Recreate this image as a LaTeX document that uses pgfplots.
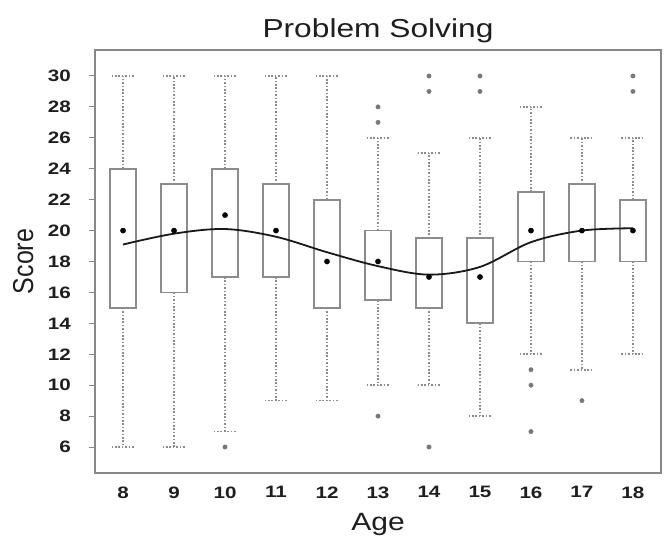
\documentclass[border=0pt]{standalone}
\usepackage{fontspec}
\setmainfont{Liberation Sans}
\usepackage{pgfplots}
\pgfplotsset{compat=1.18}
\usepgfplotslibrary{statistics}
\definecolor{boxgray}{RGB}{140,140,140}
\definecolor{framegray}{RGB}{135,135,135}
\definecolor{outgray}{RGB}{120,120,120}
\definecolor{txt}{RGB}{30,30,30}
\pgfplotsset{
  boxplot/draw direction=y,
  boxplot/every box/.style={draw=boxgray, line width=1.8pt, fill=white},
  boxplot/every whisker/.style={draw=boxgray, line width=1.6pt, dash pattern=on 1.6pt off 1.8pt},
  boxplot/every median/.style={draw=none},
  bx/.style={draw=boxgray, line width=1.8pt, boxplot prepared={box extend=0.5, whisker extend=0.45}},
}
\begin{document}
\begin{tikzpicture}
\begin{axis}[
  scale only axis, width=566pt, height=423pt,
  xmin=7.45, xmax=18.55, ymin=4.32, ymax=31.68,
  xtick={8,...,18}, ytick={6,8,...,30},
  /pgf/number format/assume math mode=true,
  axis line style={framegray, line width=1.3pt},
  tick align=outside, tick pos=left,
  major tick length=6pt,
  ytick style={framegray, line width=1pt},
  xtick style={draw=none},
  tick label style={font=\fontsize{16.5}{16.5}\selectfont\bfseries, text=txt, xscale=1.25},
  yticklabel style={xshift=-11pt},
  xticklabel style={yshift=-4pt},
  title={Problem Solving},
  title style={font=\fontsize{26}{26}\selectfont, text=txt, xscale=1.22, at={(axis description cs:0.5,1.0142)}, anchor=base},
  xlabel={Age},
  xlabel style={font=\fontsize{25}{25}\selectfont, text=txt, xscale=1.2, at={(axis description cs:0.5,-0.1348)}, anchor=base},
  ylabel={Score},
  ylabel style={font=\fontsize{25}{25}\selectfont, text=txt, at={(axis description cs:-0.1095,0.5)}, anchor=base, yscale=1.15},
]
\coordinate (sw) at (rel axis cs:0,0);
\addplot[bx, boxplot prepared={draw position=8,  lower whisker=6,  lower quartile=15,   median=20, upper quartile=24,   upper whisker=30}] coordinates {};
\addplot[bx, boxplot prepared={draw position=9,  lower whisker=6,  lower quartile=16,   median=20, upper quartile=23,   upper whisker=30}] coordinates {};
\addplot[bx, boxplot prepared={draw position=10, lower whisker=7,  lower quartile=17,   median=21, upper quartile=24,   upper whisker=30}] coordinates {};
\addplot[bx, boxplot prepared={draw position=11, lower whisker=9,  lower quartile=17,   median=20, upper quartile=23,   upper whisker=30}] coordinates {};
\addplot[bx, boxplot prepared={draw position=12, lower whisker=9,  lower quartile=15,   median=18, upper quartile=22,   upper whisker=30}] coordinates {};
\addplot[bx, boxplot prepared={draw position=13, lower whisker=10, lower quartile=15.5, median=18, upper quartile=20,   upper whisker=26}] coordinates {};
\addplot[bx, boxplot prepared={draw position=14, lower whisker=10, lower quartile=15,   median=17, upper quartile=19.5, upper whisker=25}] coordinates {};
\addplot[bx, boxplot prepared={draw position=15, lower whisker=8,  lower quartile=14,   median=17, upper quartile=19.5, upper whisker=26}] coordinates {};
\addplot[bx, boxplot prepared={draw position=16, lower whisker=12, lower quartile=18,   median=20, upper quartile=22.5, upper whisker=28}] coordinates {};
\addplot[bx, boxplot prepared={draw position=17, lower whisker=11, lower quartile=18,   median=20, upper quartile=23,   upper whisker=26}] coordinates {};
\addplot[bx, boxplot prepared={draw position=18, lower whisker=12, lower quartile=18,   median=20, upper quartile=22,   upper whisker=26}] coordinates {};
% outliers
\addplot[only marks, mark=*, mark size=2.2pt, color=outgray] coordinates {
(10,6) (13,27) (13,28) (13,8) (14,29) (14,30) (14,6) (15,29) (15,30)
(16,11) (16,10) (16,7) (17,9) (18,29) (18,30)};
% medians
\addplot[only marks, mark=*, mark size=2.6pt, color=black] coordinates {
(8,20) (9,20) (10,21) (11,20) (12,18) (13,18) (14,17) (15,17) (16,20) (17,20) (18,20)};
% smooth fit
\addplot[black!90, line width=1.8pt, smooth, tension=0.55] coordinates {
(8,19.1) (9,19.8) (10,20.1) (11,19.6) (12,18.6) (13,17.7) (14,17.15) (15,17.65) (16,19.25) (17,20.0) (18,20.15)};
\end{axis}
\pgfresetboundingbox
\path[use as bounding box] ([shift={(-95pt,-68pt)}]sw) rectangle ([shift={(569pt,473pt)}]sw);
\end{tikzpicture}
\end{document}
